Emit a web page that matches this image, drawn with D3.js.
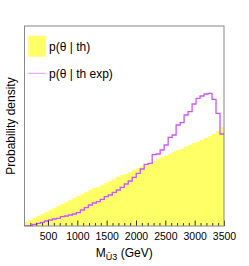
<!DOCTYPE html>
<html>
<head>
<meta charset="utf-8">
<script src="https://cdnjs.cloudflare.com/ajax/libs/d3/7.8.5/d3.min.js"></script>
<style>
  body { margin: 0; background: #fff; }
  svg { display: block; font-family: "Liberation Sans", Arial, sans-serif; }
</style>
</head>
<body>
<div id="chart"></div>
<script>
// histogram binning (GeV)
var xMin = 100, xMax = 3500, nBins = 50;
var majorTicks = [500, 1000, 1500, 2000, 2500, 3000, 3500];

// p(theta | th) - yellow filled histogram (arbitrary density units)
var pTh = [0.04, 0.06, 0.08, 0.10, 0.12, 0.14, 0.16, 0.18, 0.20, 0.22,
           0.24, 0.26, 0.28, 0.30, 0.32, 0.34, 0.36, 0.38, 0.39, 0.41,
           0.43, 0.45, 0.47, 0.49, 0.51, 0.52, 0.54, 0.56, 0.58, 0.60,
           0.62, 0.63, 0.65, 0.67, 0.69, 0.70, 0.72, 0.74, 0.76, 0.77,
           0.79, 0.81, 0.83, 0.84, 0.86, 0.88, 0.90, 0.92, 0.95, 0.99];

// p(theta | th exp) - purple step line
var pThExp = [0.003, 0.003, 0.017, 0.027, 0.037, 0.05, 0.06, 0.07, 0.077, 0.093,
              0.10, 0.11, 0.12, 0.133, 0.16, 0.183, 0.21, 0.23, 0.243, 0.267,
              0.293, 0.31, 0.337, 0.36, 0.387, 0.42, 0.45, 0.487, 0.527, 0.57,
              0.617, 0.627, 0.713, 0.72, 0.76, 0.81, 0.887, 0.91, 1.01, 1.033,
              1.11, 1.143, 1.22, 1.277, 1.30, 1.32, 1.327, 1.267, 1.127, 0.92];

var legendLabels = ["p(\u03b8 | th)", "p(\u03b8 | th exp)"];

var width = 249, height = 266;
var frame = {left: 24.5, right: 224, top: 26, bottom: 226};

var svg = d3.select('#chart').append('svg')
    .attr('width', width)
    .attr('height', height);

var x = d3.scaleLinear().domain([xMin, xMax]).range([frame.left, frame.right]);
var y = d3.scaleLinear().domain([0, 2]).range([frame.bottom, frame.top]);

var binW = (xMax - xMin) / nBins;
// bin edges, last value repeated so the step closes on the right edge
function stepData(vals) {
    var pts = vals.map((v, i) => ({x: xMin + i * binW, v: v}));
    pts.push({x: xMax, v: vals[vals.length - 1]});
    return pts;
}

var area = d3.area()
    .curve(d3.curveStepAfter)
    .x(d => x(d.x))
    .y0(y(0))
    .y1(d => y(d.v));

var line = d3.line()
    .curve(d3.curveStepAfter)
    .x(d => x(d.x))
    .y(d => y(d.v));

svg.append('path')
    .datum(stepData(pTh))
    .attr('fill', '#ffff66')
    .attr('d', area);

svg.append('path')
    .datum(stepData(pThExp))
    .attr('fill', 'none')
    .attr('stroke', '#cc55ff')
    .attr('stroke-width', 1.3)
    .attr('d', line);

// ticks point inward like ROOT
var minor = d3.range(200, xMax + 1, 100).filter(v => majorTicks.indexOf(v) < 0);
svg.append('g')
    .attr('transform', `translate(0,${frame.bottom})`)
    .call(d3.axisBottom(x).tickValues(minor).tickSize(-3).tickFormat(''))
    .call(g => g.select('.domain').remove())
    .selectAll('line').attr('stroke', '#333');

var xAxis = svg.append('g')
    .attr('transform', `translate(0,${frame.bottom})`)
    .call(d3.axisBottom(x).tickValues(majorTicks).tickSize(-5.5).tickPadding(6.4).tickFormat(d3.format('d')));
xAxis.select('.domain').remove();
xAxis.selectAll('line').attr('stroke', '#333');
xAxis.selectAll('text')
    .attr('fill', '#000')
    .style('font-size', '10.5px')
    .style('font-family', '"Liberation Sans", Arial, sans-serif');

// frame
svg.append('rect')
    .attr('x', frame.left)
    .attr('y', frame.top)
    .attr('width', frame.right - frame.left)
    .attr('height', frame.bottom - frame.top)
    .attr('fill', 'none')
    .attr('stroke', '#888')
    .attr('stroke-width', 1);

// axis titles
var xt = svg.append('text')
    .attr('x', (frame.left + frame.right) / 2)
    .attr('y', 256.5)
    .attr('text-anchor', 'middle')
    .style('font-size', '12px');
xt.append('tspan').text('M');
xt.append('tspan').attr('dy', 3).style('font-size', '9px').text('\u0168' + '3');
xt.append('tspan').attr('dy', -3).text(' (GeV)');

svg.append('text')
    .attr('transform', `translate(15,${(frame.top + frame.bottom) / 2}) rotate(-90)`)
    .attr('text-anchor', 'middle')
    .style('font-size', '12px')
    .text('Probability density');

// legend
var leg = svg.append('g');
leg.append('rect')
    .attr('x', 28.3).attr('y', 35.7)
    .attr('width', 17.5).attr('height', 21)
    .attr('fill', '#ffff66');
leg.append('line')
    .attr('x1', 28.3).attr('x2', 45.8)
    .attr('y1', 73.3).attr('y2', 73.3)
    .attr('stroke', '#dd99ff')
    .attr('stroke-width', 1);
leg.selectAll('text.lab')
    .data(legendLabels)
    .enter().append('text')
    .attr('class', 'lab')
    .attr('x', 49)
    .attr('y', (d, i) => i === 0 ? 50.5 : 77.5)
    .style('font-size', '12px')
    .text(d => d);
</script>
</body>
</html>
